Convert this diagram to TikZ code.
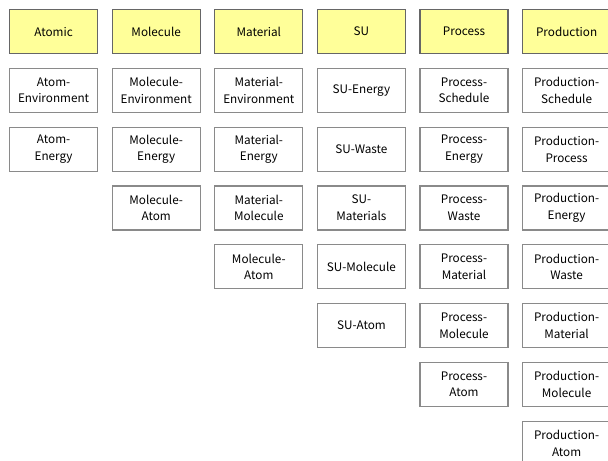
\documentclass[tikz,border=0pt]{standalone}
\usepackage{fontspec}
\setmainfont{Noto Sans CJK JP}
\definecolor{headfill}{HTML}{FFFF99}
\definecolor{boxline}{HTML}{8A8A8A}
\tikzset{
  cell/.style={draw=boxline, line width=0.9pt, minimum width=88*0.75pt, minimum height=44*0.75pt,
    inner sep=0pt, align=center, font=\fontsize{8.8}{12.5}\selectfont, anchor=north west, fill=white},
  headcell/.style={cell, fill=headfill, draw=black!60},
}
\begin{document}
\begin{tikzpicture}[x=0.75pt, y=-0.75pt]
\useasboundingbox (0,0) rectangle (608,461);
\clip (0,0) rectangle (608,461);
% header row
\node[headcell] (h1) at (9,9) {Atomic};
\node[headcell] (h2) at (111.6,9) {Molecule};
\node[headcell] (h3) at (214.2,9) {Material};
\node[headcell] (h4) at (316.8,9) {SU};
\node[headcell] (h5) at (419.4,9) {Process};
\node[headcell] (h6) at (522,9) {Production};
% Atomic
\node[cell] (a1) at (9,67.8) {Atom-\\Environment};
\node[cell] (a2) at (9,126.6) {Atom-\\Energy};
% Molecule
\node[cell] (m1) at (111.6,67.8) {Molecule-\\Environment};
\node[cell] (m2) at (111.6,126.6) {Molecule-\\Energy};
\node[cell] (m3) at (111.6,185.4) {Molecule-\\Atom};
% Material
\node[cell] (t1) at (214.2,67.8) {Material-\\Environment};
\node[cell] (t2) at (214.2,126.6) {Material-\\Energy};
\node[cell] (t3) at (214.2,185.4) {Material-\\Molecule};
\node[cell] (t4) at (214.2,244.2) {Molecule-\\Atom};
% SU
\node[cell] (s1) at (316.8,67.8) {SU-Energy};
\node[cell] (s2) at (316.8,126.6) {SU-Waste};
\node[cell] (s3) at (316.8,185.4) {SU-\\Materials};
\node[cell] (s4) at (316.8,244.2) {SU-Molecule};
\node[cell] (s5) at (316.8,303) {SU-Atom};
% Process
\node[cell] (p1) at (419.4,67.8) {Process-\\Schedule};
\node[cell] (p2) at (419.4,126.6) {Process-\\Energy};
\node[cell] (p3) at (419.4,185.4) {Process-\\Waste};
\node[cell] (p4) at (419.4,244.2) {Process-\\Material};
\node[cell] (p5) at (419.4,303) {Process-\\Molecule};
\node[cell] (p6) at (419.4,361.8) {Process-\\Atom};
% Production
\node[cell] (r1) at (522,67.8) {Production-\\Schedule};
\node[cell] (r2) at (522,126.6) {Production-\\Process};
\node[cell] (r3) at (522,185.4) {Production-\\Energy};
\node[cell] (r4) at (522,244.2) {Production-\\Waste};
\node[cell] (r5) at (522,303) {Production-\\Material};
\node[cell] (r6) at (522,361.8) {Production-\\Molecule};
\node[cell] (r7) at (522,420.6) {Production-\\Atom};
\end{tikzpicture}
\end{document}
